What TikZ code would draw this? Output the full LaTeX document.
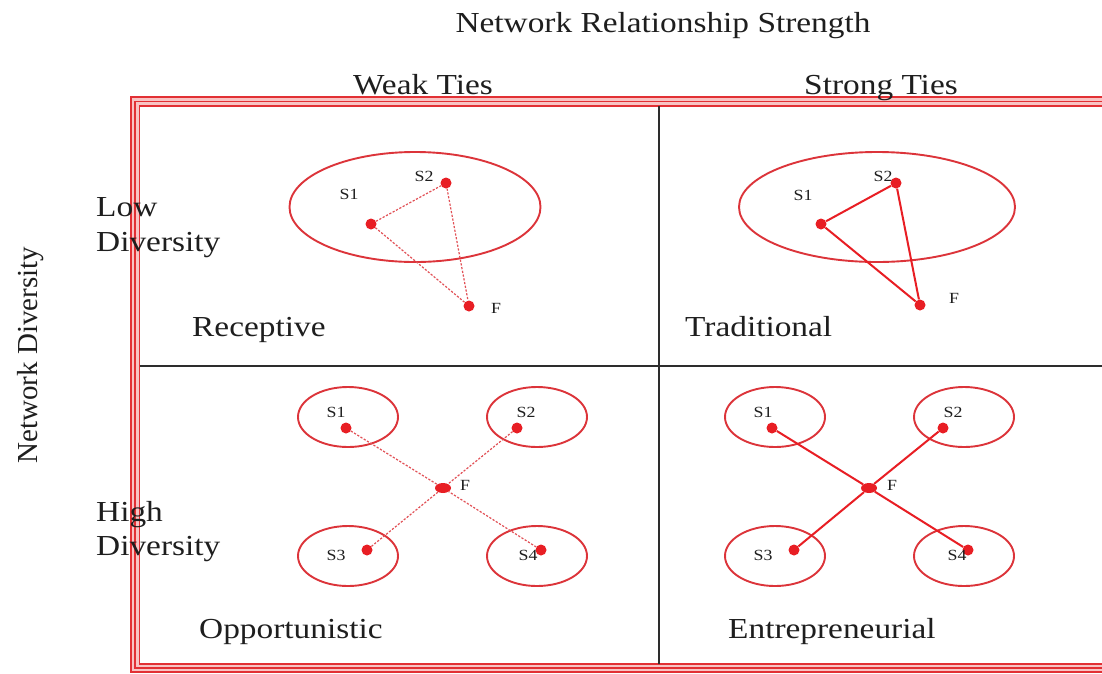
\documentclass[tikz,border=0pt]{standalone}
\usepackage{fontspec}
\setmainfont[FakeStretch=1.15]{Liberation Serif}
\newfontfamily\uprightserif{Liberation Serif}
\usetikzlibrary{shapes.geometric}
\definecolor{ink}{RGB}{30,30,30}
\definecolor{gridline}{RGB}{45,45,45}
\definecolor{framered}{RGB}{226,48,52}
\definecolor{framepink}{RGB}{248,196,196}
\definecolor{setred}{RGB}{220,52,58}
\definecolor{dotred}{RGB}{232,30,36}
\definecolor{weakred}{RGB}{226,80,86}
\tikzset{
  bigtext/.style={font=\fontsize{29}{34}\selectfont, text=ink, inner sep=0pt},
  smalltext/.style={font=\fontsize{15.5}{18}\selectfont, text=ink, inner sep=0pt},
  actor/.style={circle, fill=dotred, inner sep=0pt, minimum size=11pt},
  firm/.style={ellipse, fill=dotred, inner sep=0pt, minimum width=16pt, minimum height=10pt},
  bigset/.style={ellipse, draw=setred, line width=1.9pt, inner sep=0pt},
  smallset/.style={ellipse, draw=setred, line width=1.9pt, inner sep=0pt, minimum width=100pt, minimum height=60pt},
  weaktie/.style={draw=weakred, line width=1.2pt, dash pattern=on 2.2pt off 1.6pt},
  strongtie/.style={draw=dotred, line width=2pt},
}
\begin{document}
\begin{tikzpicture}[x=1pt, y=-1pt]
\useasboundingbox (0,0) rectangle (1102,673);
\clip (0,0) rectangle (1102,673);
\fill[white] (0,0) rectangle (1102,673);

% triple-ruled outer frame
\draw[framepink, line width=9pt] (135,101.5) rectangle (1115,668);
\draw[framered, line width=1.4pt] (131,97) rectangle (1119,672);
\draw[framered, line width=1.4pt] (135,101.5) rectangle (1115,668);
\draw[framered, line width=1.4pt] (139.5,106) rectangle (1111,664);

% quadrant dividers
\coordinate (vtop) at (659,106);
\coordinate (vbot) at (659,664);
\coordinate (hl) at (139.5,366);
\coordinate (hr) at (1102,366);
\draw[gridline, line width=1.5pt] (vtop) -- (vbot);
\draw[gridline, line width=1.5pt] (hl) -- (hr);

% axis headings
\node[bigtext, anchor=base] (title) at (663,32) {Network Relationship Strength};
\node[bigtext, anchor=base] (weak) at (423,94) {Weak Ties};
\node[bigtext, anchor=base] (strong) at (881,94) {Strong Ties};
\node[bigtext, font=\uprightserif\fontsize{29}{34}\selectfont, rotate=90, anchor=base] (ndiv) at (37,355) {Network Diversity};
\node[bigtext, anchor=base west] (low) at (96,216) {Low};
\node[bigtext, anchor=base west] (lowdiv) at (96,251) {Diversity};
\node[bigtext, anchor=base west] (high) at (96,521) {High};
\node[bigtext, anchor=base west] (highdiv) at (96,555) {Diversity};

% quadrant names
\node[bigtext, anchor=base west] (receptive) at (192,336) {Receptive};
\node[bigtext, anchor=base west] (traditional) at (685,336) {Traditional};
\node[bigtext, anchor=base west] (opportunistic) at (199,638) {Opportunistic};
\node[bigtext, anchor=base west] (entrepreneurial) at (728,638) {Entrepreneurial};

% Receptive: weak ties, one shared set
\node[bigset, minimum width=251pt, minimum height=110pt] (rset) at (415,207) {};
\node[actor] (r1) at (371,224) {};
\node[actor] (r2) at (446,183) {};
\node[actor] (rf) at (469,306) {};
\node[smalltext] (r1l) at (349,194) {S1};
\node[smalltext] (r2l) at (424,176) {S2};
\node[smalltext] (rfl) at (496,308) {F};
\draw[weaktie] (r1) -- (r2);
\draw[weaktie] (r2) -- (rf);
\draw[weaktie] (r1) -- (rf);

% Traditional: strong ties, one shared set
\node[bigset, minimum width=276pt, minimum height=110pt] (tset) at (877,207) {};
\node[actor] (t1) at (821,224) {};
\node[actor] (t2) at (896,183) {};
\node[actor] (tf) at (920,305) {};
\node[smalltext] (t1l) at (803,195) {S1};
\node[smalltext] (t2l) at (883,176) {S2};
\node[smalltext] (tfl) at (954,298) {F};
\draw[strongtie] (t1) -- (t2);
\draw[strongtie] (t2) -- (tf);
\draw[strongtie] (t1) -- (tf);

% Opportunistic: weak ties, separate sets
\node[smallset] (oset1) at (348,417) {};
\node[smallset] (oset2) at (537,417) {};
\node[smallset] (oset3) at (348,556) {};
\node[smallset] (oset4) at (537,556) {};
\node[actor] (o1) at (346,428) {};
\node[actor] (o2) at (517,428) {};
\node[actor] (o3) at (367,550) {};
\node[actor] (o4) at (541,550) {};
\node[firm] (of) at (443,488) {};
\node[smalltext] (o1l) at (336,412) {S1};
\node[smalltext] (o2l) at (526,412) {S2};
\node[smalltext] (o3l) at (336,555) {S3};
\node[smalltext] (o4l) at (528,555) {S4};
\node[smalltext] (ofl) at (465,485) {F};
\draw[weaktie] (o1) -- (of);
\draw[weaktie] (o2) -- (of);
\draw[weaktie] (o3) -- (of);
\draw[weaktie] (o4) -- (of);

% Entrepreneurial: strong ties, separate sets
\node[smallset] (eset1) at (775,417) {};
\node[smallset] (eset2) at (964,417) {};
\node[smallset] (eset3) at (775,556) {};
\node[smallset] (eset4) at (964,556) {};
\node[actor] (e1) at (772,428) {};
\node[actor] (e2) at (943,428) {};
\node[actor] (e3) at (794,550) {};
\node[actor] (e4) at (968,550) {};
\node[firm] (ef) at (869,488) {};
\node[smalltext] (e1l) at (763,412) {S1};
\node[smalltext] (e2l) at (953,412) {S2};
\node[smalltext] (e3l) at (763,555) {S3};
\node[smalltext] (e4l) at (957,555) {S4};
\node[smalltext] (efl) at (892,485) {F};
\draw[strongtie] (e1) -- (ef);
\draw[strongtie] (e2) -- (ef);
\draw[strongtie] (e3) -- (ef);
\draw[strongtie] (e4) -- (ef);
\end{tikzpicture}
\end{document}
